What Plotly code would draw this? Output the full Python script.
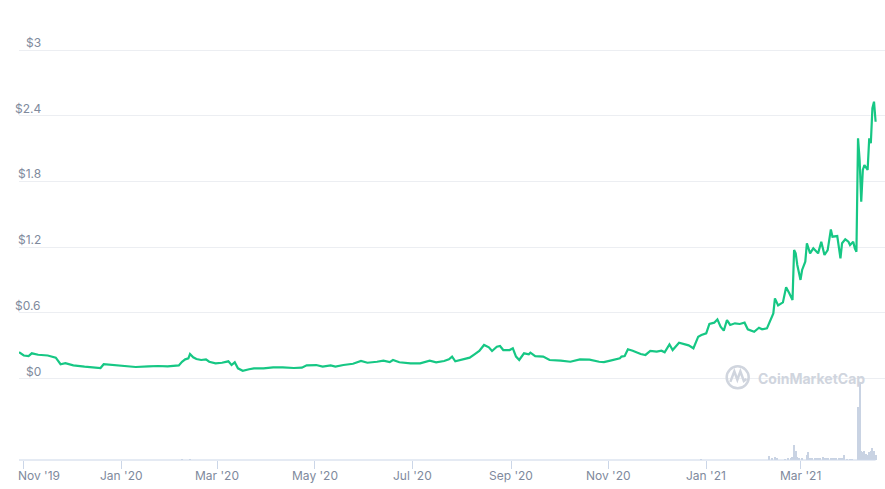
import plotly.graph_objects as go

price_dates = [
    "2019-10-29", "2019-11-01", "2019-11-04", "2019-11-06", "2019-11-10", "2019-11-16",
    "2019-11-21", "2019-11-24", "2019-11-27", "2019-12-02", "2019-12-09", "2019-12-16",
    "2019-12-19", "2019-12-21", "2019-12-24", "2019-12-28", "2020-01-03", "2020-01-10",
    "2020-01-18", "2020-01-24", "2020-01-30", "2020-02-06", "2020-02-08", "2020-02-10",
    "2020-02-12", "2020-02-13", "2020-02-15", "2020-02-17", "2020-02-20", "2020-02-23",
    "2020-02-25", "2020-02-29", "2020-03-04", "2020-03-08", "2020-03-10", "2020-03-12",
    "2020-03-14", "2020-03-17", "2020-03-21", "2020-03-24", "2020-03-30", "2020-04-05",
    "2020-04-11", "2020-04-18", "2020-04-23", "2020-04-26", "2020-05-02", "2020-05-06",
    "2020-05-11", "2020-05-14", "2020-05-19", "2020-05-25", "2020-05-30", "2020-06-03",
    "2020-06-09", "2020-06-13", "2020-06-17", "2020-06-19", "2020-06-23", "2020-06-30",
    "2020-07-06", "2020-07-09", "2020-07-12", "2020-07-16", "2020-07-21", "2020-07-24",
    "2020-07-26", "2020-07-28", "2020-07-31", "2020-08-03", "2020-08-06", "2020-08-09",
    "2020-08-12", "2020-08-15", "2020-08-18", "2020-08-20", "2020-08-23", "2020-08-25",
    "2020-08-27", "2020-08-31", "2020-09-02", "2020-09-04", "2020-09-06", "2020-09-09",
    "2020-09-12", "2020-09-13", "2020-09-16", "2020-09-21", "2020-09-25", "2020-10-02",
    "2020-10-08", "2020-10-14", "2020-10-20", "2020-10-26", "2020-10-29", "2020-11-02",
    "2020-11-06", "2020-11-08", "2020-11-09", "2020-11-11", "2020-11-13", "2020-11-16",
    "2020-11-21", "2020-11-24", "2020-11-27", "2020-12-01", "2020-12-04", "2020-12-06",
    "2020-12-09", "2020-12-11", "2020-12-15", "2020-12-18", "2020-12-21", "2020-12-24",
    "2020-12-27", "2020-12-29", "2021-01-01", "2021-01-03", "2021-01-06", "2021-01-08",
    "2021-01-10", "2021-01-12", "2021-01-14", "2021-01-16", "2021-01-19", "2021-01-22",
    "2021-01-25", "2021-01-27", "2021-01-31", "2021-02-03", "2021-02-05", "2021-02-08",
    "2021-02-10", "2021-02-12", "2021-02-13", "2021-02-15", "2021-02-18", "2021-02-20",
    "2021-02-22", "2021-02-24", "2021-02-25", "2021-02-26", "2021-02-27", "2021-03-01",
    "2021-03-02", "2021-03-04", "2021-03-05", "2021-03-07", "2021-03-09", "2021-03-12",
    "2021-03-14", "2021-03-16", "2021-03-18", "2021-03-20", "2021-03-21", "2021-03-23",
    "2021-03-24", "2021-03-26", "2021-03-27", "2021-03-29", "2021-03-31", "2021-04-01",
    "2021-04-03", "2021-04-04", "2021-04-05", "2021-04-06", "2021-04-07", "2021-04-08",
    "2021-04-09", "2021-04-10", "2021-04-12", "2021-04-13", "2021-04-14", "2021-04-15",
    "2021-04-16", "2021-04-17",
]
price_values = [
    0.24, 0.21, 0.205, 0.23, 0.217, 0.21,
    0.19, 0.13, 0.14, 0.12, 0.108, 0.096,
    0.096, 0.13, 0.126, 0.117, 0.108, 0.105,
    0.11, 0.114, 0.11, 0.12, 0.153, 0.175,
    0.184, 0.224, 0.194, 0.178, 0.169, 0.175,
    0.153, 0.139, 0.144, 0.157, 0.123, 0.148,
    0.093, 0.071, 0.084, 0.093, 0.093, 0.102,
    0.102, 0.096, 0.099, 0.12, 0.123, 0.108,
    0.12, 0.108, 0.123, 0.135, 0.16, 0.144,
    0.153, 0.163, 0.15, 0.169, 0.148, 0.139,
    0.139, 0.153, 0.163, 0.148, 0.16, 0.175,
    0.2, 0.157, 0.169, 0.181, 0.19, 0.221,
    0.251, 0.306, 0.285, 0.251, 0.29, 0.297,
    0.26, 0.26, 0.276, 0.2, 0.169, 0.23,
    0.221, 0.236, 0.205, 0.2, 0.169, 0.163,
    0.153, 0.175, 0.172, 0.153, 0.15, 0.163,
    0.175, 0.184, 0.2, 0.205, 0.267, 0.254,
    0.224, 0.215, 0.251, 0.245, 0.254, 0.239,
    0.312, 0.26, 0.327, 0.315, 0.303, 0.276,
    0.382, 0.397, 0.413, 0.498, 0.51, 0.54,
    0.473, 0.437, 0.534, 0.489, 0.504, 0.498,
    0.51, 0.449, 0.427, 0.464, 0.449, 0.458,
    0.534, 0.595, 0.732, 0.668, 0.695, 0.833,
    0.778, 0.717, 1.173, 1.143, 1.037, 0.9,
    0.991, 1.067, 1.235, 1.143, 1.189, 1.143,
    1.249, 1.128, 1.173, 1.362, 1.295, 1.295,
    1.301, 1.098, 1.235, 1.271, 1.249, 1.219,
    1.249, 1.189, 1.158, 2.194, 1.995, 1.615,
    1.904, 1.95, 1.904, 2.194, 2.148, 2.468,
    2.528, 2.345,
]

volume_dates = [
    "2020-02-08", "2020-02-13", "2020-12-29",
    "2021-02-09", "2021-02-11", "2021-02-13", "2021-02-14", "2021-02-19", "2021-02-21",
    "2021-02-23", "2021-02-24", "2021-02-25", "2021-02-26", "2021-02-27", "2021-02-28",
    "2021-03-02", "2021-03-05", "2021-03-06", "2021-03-07", "2021-03-08", "2021-03-10",
    "2021-03-11", "2021-03-12", "2021-03-13", "2021-03-15", "2021-03-16", "2021-03-17",
    "2021-03-18", "2021-03-20", "2021-03-21", "2021-03-22", "2021-03-23", "2021-03-25",
    "2021-03-26", "2021-03-27", "2021-03-28", "2021-03-30", "2021-04-01", "2021-04-02",
    "2021-04-06", "2021-04-07", "2021-04-08", "2021-04-09", "2021-04-10", "2021-04-11",
    "2021-04-12", "2021-04-13", "2021-04-14", "2021-04-15", "2021-04-16", "2021-04-17",
]
volume_values = [
    8, 8, 8,
    40, 17, 30, 13, 10, 13,
    20, 30, 150, 90, 30, 17,
    17, 50, 77, 23, 17, 20,
    23, 17, 23, 30, 17, 17,
    13, 23, 20, 23, 20, 17,
    20, 20, 50, 10, 10, 10,
    530, 780, 90, 77, 90, 57,
    50, 77, 90, 123, 90, 50,
]

y_tick_values = [0, 0.6, 1.2, 1.8, 2.4, 3]
y_tick_labels = ["$0", "$0.6", "$1.2", "$1.8", "$2.4", "$3"]
x_tick_values = ["2019-11-01", "2020-01-01", "2020-03-01", "2020-05-01", "2020-07-01",
                 "2020-09-01", "2020-11-01", "2021-01-01", "2021-03-01"]
x_tick_labels = ["Nov '19", "Jan '20", "Mar '20", "May '20", "Jul '20",
                 "Sep '20", "Nov '20", "Jan '21", "Mar '21"]

LABEL = "#808a9d"
GRID = "#eceef2"
AXIS = "#cbd6e8"
FONT = "Inter"

fig = go.Figure()
fig.add_trace(go.Bar(
    x=volume_dates, y=volume_values, yaxis="y2",
    marker=dict(color="#c9d3e3", line=dict(width=0)),
    width=86400000 * 0.65, hoverinfo="skip",
))
fig.add_trace(go.Scatter(
    x=price_dates, y=price_values, mode="lines",
    line=dict(color="#16c784", width=2.2),
))

annotations = []
for v, t in zip(y_tick_values, y_tick_labels):
    annotations.append(dict(
        xref="paper", yref="y", x=0.0277, y=v, text=t, showarrow=False,
        xanchor="right", yanchor="bottom", yshift=-2,
        font=dict(family=FONT, size=12, color=LABEL),
    ))
for i, (d, t) in enumerate(zip(x_tick_values, x_tick_labels)):
    annotations.append(dict(
        xref="x", yref="paper", x=d, y=-0.038, text=t, showarrow=False,
        xanchor="left" if i == 0 else "center", xshift=-8 if i == 0 else 0,
        yanchor="middle",
        font=dict(family=FONT, size=12, color=LABEL),
    ))
annotations.append(dict(
    xref="paper", yref="paper", x=0.9151, y=0.1952, text="<b>CoinMarketCap</b>",
    showarrow=False, xanchor="center", yanchor="middle",
    font=dict(family=FONT, size=14, color="#d0d5de"),
))

shapes = [
    dict(type="line", xref="x", yref="paper", x0=price_dates[0], x1=price_dates[-1],
         y0=0, y1=0, line=dict(color=AXIS, width=1), layer="above"),
    dict(type="circle", xref="paper", yref="paper", x0=0.8172, x1=0.8426,
         y0=0.1707, y1=0.2231, line=dict(color="#d0d5de", width=2.5)),
    dict(type="path", xref="paper", yref="paper",
         path="M 0.8214 0.1860 L 0.8260 0.2110 L 0.8295 0.1910 L 0.8330 0.2110 L 0.8370 0.1880 L 0.8400 0.1930",
         line=dict(color="#d0d5de", width=2.5)),
]

fig.update_layout(
    width=885, height=489,
    margin=dict(l=19, r=0, t=40, b=29),
    paper_bgcolor="white", plot_bgcolor="white",
    showlegend=False,
    xaxis=dict(
        type="date", range=["2019-10-29", "2021-04-22 21:00"],
        tickvals=x_tick_values, ticktext=[""] * len(x_tick_values),
        ticks="outside", ticklen=8, tickcolor=AXIS, tickwidth=1,
        showgrid=False, showline=False, zeroline=False,
    ),
    yaxis=dict(
        range=[-0.7443, 3.0913], tickvals=y_tick_values, showticklabels=False,
        showgrid=True, gridcolor=GRID, gridwidth=1, zeroline=False, showline=False,
    ),
    yaxis2=dict(
        overlaying="y", range=[0, 4200], visible=False, showgrid=False,
    ),
    bargap=0,
    annotations=annotations,
    shapes=shapes,
)

fig.write_html("out.html")
